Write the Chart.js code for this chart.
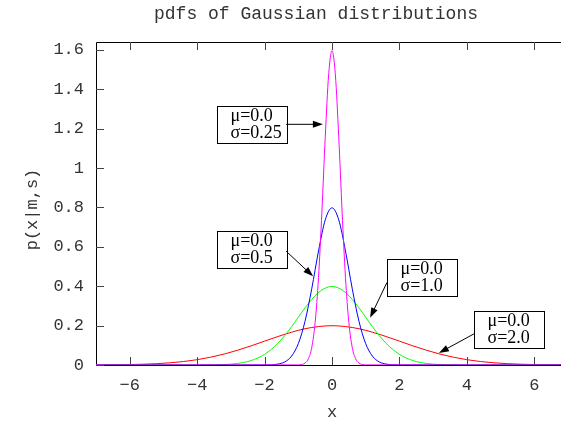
<!DOCTYPE html>
<html>
<head>
<meta charset="utf-8">
<script src="https://cdn.jsdelivr.net/npm/chart.js@4"></script>
<style>
  html, body { margin: 0; padding: 0; background: #fff; overflow: hidden; }
  #wrap { width: 580px; height: 422px; }
</style>
</head>
<body>
<div id="wrap"><canvas id="pdfChart" width="580" height="422"></canvas></div>
<script>
// sampled curves, sigma = 0.25 / 0.5 / 1.0 / 2.0 (all mu = 0)
const xSig025 = [-7, -1.0, -0.9, -0.8, -0.7, -0.6, -0.5, -0.4, -0.3, -0.2, -0.1, 0, 0.1, 0.2, 0.3, 0.4, 0.5, 0.6, 0.7, 0.8, 0.9, 1.0, 7];
const ySig025 = [0, 0.0005, 0.0024, 0.0095, 0.0317, 0.0896, 0.216, 0.444, 0.777, 1.159, 1.473, 1.596, 1.473, 1.159, 0.777, 0.444, 0.216, 0.0896, 0.0317, 0.0095, 0.0024, 0.0005, 0];

const xSig05 = [-7, -2.0, -1.8, -1.6, -1.4, -1.2, -1.0, -0.8, -0.6, -0.4, -0.2, 0, 0.2, 0.4, 0.6, 0.8, 1.0, 1.2, 1.4, 1.6, 1.8, 2.0, 7];
const ySig05 = [0, 0.0003, 0.0012, 0.0048, 0.0158, 0.0448, 0.108, 0.222, 0.388, 0.579, 0.737, 0.798, 0.737, 0.579, 0.388, 0.222, 0.108, 0.0448, 0.0158, 0.0048, 0.0012, 0.0003, 0];

const xSig1 = [-7, -4.0, -3.6, -3.2, -2.8, -2.4, -2.0, -1.6, -1.2, -0.8, -0.4, 0, 0.4, 0.8, 1.2, 1.6, 2.0, 2.4, 2.8, 3.2, 3.6, 4.0, 7];
const ySig1 = [0, 0.0001, 0.0006, 0.0024, 0.0079, 0.0224, 0.054, 0.111, 0.194, 0.290, 0.368, 0.399, 0.368, 0.290, 0.194, 0.111, 0.054, 0.0224, 0.0079, 0.0024, 0.0006, 0.0001, 0];

const xSig2 = [-7, -6.4, -5.6, -4.8, -4.0, -3.2, -2.4, -1.6, -0.8, 0, 0.8, 1.6, 2.4, 3.2, 4.0, 4.8, 5.6, 6.4, 7];
const ySig2 = [0.0004, 0.0012, 0.0040, 0.0112, 0.0270, 0.0555, 0.0971, 0.1449, 0.1842, 0.1995, 0.1842, 0.1449, 0.0971, 0.0555, 0.0270, 0.0112, 0.0040, 0.0012, 0.0004];

const xTicks = [-6, -4, -2, 0, 2, 4, 6];
const yTicks = [0, 0.2, 0.4, 0.6, 0.8, 1, 1.2, 1.4, 1.6];

// label boxes: top-left corner and arrow (from -> to), in data units
const labelLines = [['μ=0.0', 'σ=0.25'], ['μ=0.0', 'σ=0.5'], ['μ=0.0', 'σ=1.0'], ['μ=0.0', 'σ=2.0']];
const labelCorners = [[-3.41, 1.314], [-3.41, 0.680], [1.63, 0.537], [4.21, 0.276]];
const arrowFrom = [[-1.36, 1.222], [-1.36, 0.578], [1.63, 0.419], [4.21, 0.158]];
const arrowTo = [[-0.27, 1.222], [-0.56, 0.450], [1.13, 0.240], [3.17, 0.061]];

const MONO = '"Liberation Mono", "DejaVu Sans Mono", monospace';
const SERIF = '"Liberation Serif", "DejaVu Serif", serif';
const TXT = '#333';

const toPoints = (xs, ys) => xs.map((x, i) => ({ x: x, y: ys[i] }));

const curve = (data, color) => ({
  data: data,
  borderColor: color,
  borderWidth: 1,
  pointRadius: 0,
  fill: false,
  cubicInterpolationMode: 'monotone'
});

const fmt = v => {
  const s = String(+Number(v).toFixed(1));
  return s.startsWith('-') ? '\u2212' + s.slice(1) : s;
};

// frame with inward ticks, drawn under the curves
const framePlugin = {
  id: 'frame',
  beforeDatasetsDraw(chart) {
    const { ctx, chartArea: a, scales: { x, y } } = chart;
    ctx.save();
    ctx.strokeStyle = '#000';
    ctx.lineWidth = 1;
    ctx.beginPath();
    ctx.moveTo(a.right, a.top + 0.5);
    ctx.lineTo(a.left + 0.5, a.top + 0.5);
    ctx.lineTo(a.left + 0.5, a.bottom + 0.5);
    ctx.lineTo(a.right, a.bottom + 0.5);
    ctx.stroke();
    ctx.strokeStyle = '#444';
    ctx.beginPath();
    xTicks.forEach(v => {
      const px = Math.round(x.getPixelForValue(v)) + 0.5;
      ctx.moveTo(px, a.bottom);
      ctx.lineTo(px, a.bottom - 8);
      ctx.moveTo(px, a.top);
      ctx.lineTo(px, a.top + 8);
    });
    yTicks.forEach(v => {
      const py = Math.round(y.getPixelForValue(v)) + 0.5;
      ctx.moveTo(a.left, py);
      ctx.lineTo(a.left + 8, py);
    });
    ctx.stroke();
    ctx.restore();
  }
};

// title, axis names and the boxed labels with arrows
const textPlugin = {
  id: 'texts',
  afterDraw(chart) {
    const { ctx, chartArea: a, scales: { x, y } } = chart;
    ctx.save();
    ctx.fillStyle = TXT;
    ctx.font = '18px ' + MONO;
    ctx.textAlign = 'center';
    ctx.textBaseline = 'middle';
    ctx.fillText('pdfs of Gaussian distributions', 316, 14);
    ctx.font = '17px ' + MONO;
    ctx.fillText('x', 332, 412);
    ctx.translate(32, (a.top + a.bottom) / 2 + 6);
    ctx.rotate(-Math.PI / 2);
    ctx.fillText('p(x|m,s)', 0, 0);
    ctx.restore();

    ctx.save();
    labelLines.forEach((lines, i) => {
      const bx = Math.round(x.getPixelForValue(labelCorners[i][0])) + 0.5;
      const by = Math.round(y.getPixelForValue(labelCorners[i][1])) + 0.5;
      ctx.fillStyle = '#fff';
      ctx.fillRect(bx, by, 70, 37);
      ctx.strokeStyle = '#000';
      ctx.lineWidth = 1;
      ctx.strokeRect(bx, by, 70, 37);
      ctx.fillStyle = '#000';
      ctx.font = '18px ' + SERIF;
      ctx.textAlign = 'left';
      ctx.textBaseline = 'middle';
      ctx.fillText(lines[0], bx + 13, by + 10);
      ctx.fillText(lines[1], bx + 13, by + 27);

      const x0 = x.getPixelForValue(arrowFrom[i][0]);
      const y0 = y.getPixelForValue(arrowFrom[i][1]);
      const x1 = x.getPixelForValue(arrowTo[i][0]);
      const y1 = y.getPixelForValue(arrowTo[i][1]);
      const ang = Math.atan2(y1 - y0, x1 - x0);
      ctx.beginPath();
      ctx.moveTo(x0, y0);
      ctx.lineTo(x1 - 8 * Math.cos(ang), y1 - 8 * Math.sin(ang));
      ctx.stroke();
      ctx.beginPath();
      ctx.moveTo(x1, y1);
      ctx.lineTo(x1 - 10 * Math.cos(ang) + 3.5 * Math.sin(ang), y1 - 10 * Math.sin(ang) - 3.5 * Math.cos(ang));
      ctx.lineTo(x1 - 10 * Math.cos(ang) - 3.5 * Math.sin(ang), y1 - 10 * Math.sin(ang) + 3.5 * Math.cos(ang));
      ctx.closePath();
      ctx.fill();
    });
    ctx.restore();
  }
};

new Chart(document.getElementById('pdfChart'), {
  type: 'line',
  data: {
    datasets: [
      curve(toPoints(xSig025, ySig025), '#ff00ff'),
      curve(toPoints(xSig05, ySig05), '#0000ff'),
      curve(toPoints(xSig1, ySig1), '#00ff00'),
      curve(toPoints(xSig2, ySig2), '#ff0000')
    ]
  },
  options: {
    responsive: false,
    animation: false,
    layout: { padding: { top: 42, right: 12, left: 0, bottom: 0 } },
    plugins: { legend: { display: false }, tooltip: { enabled: false } },
    scales: {
      x: {
        type: 'linear',
        min: -7,
        max: 7,
        afterBuildTicks: s => { s.ticks = xTicks.map(v => ({ value: v })); },
        afterFit: s => { s.height = 57; },
        grid: { display: false, drawTicks: false },
        border: { display: false },
        ticks: { font: { family: MONO, size: 17 }, color: TXT, padding: 10, maxRotation: 0, callback: fmt }
      },
      y: {
        min: 0,
        max: 1.64,
        afterBuildTicks: s => { s.ticks = yTicks.map(v => ({ value: v })); },
        afterFit: s => { s.width = 96; },
        grid: { display: false, drawTicks: false },
        border: { display: false },
        ticks: { font: { family: MONO, size: 17 }, color: TXT, padding: 12, callback: fmt }
      }
    }
  },
  plugins: [framePlugin, textPlugin]
});
</script>
</body>
</html>
